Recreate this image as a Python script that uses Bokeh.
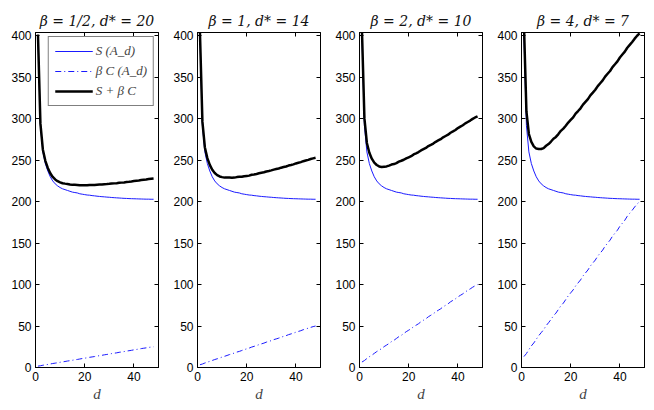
from bokeh.plotting import figure
from bokeh.models import LinearAxis, FixedTicker, Range1d, Legend, LegendItem
from bokeh.layouts import row
from bokeh.embed import file_html
from bokeh.resources import INLINE

# ---- data ----
d = list(range(1, 49))
S = [400, 292, 260, 246, 237, 230, 225, 221.5, 219, 217,
     215.5, 214.5, 213.5, 212.5, 211.5, 211, 210.5, 209.5, 209, 208.5,
     208, 207.8, 207.3, 207, 206.6, 206.3, 206, 205.8, 205.5, 205.3,
     205, 204.8, 204.6, 204.4, 204.2, 204, 203.9, 203.7, 203.6, 203.5,
     203.4, 203.3, 203.2, 203.1, 203.0, 203.0, 202.9, 202.9]
C = [3.3, 4.2, 5.4, 6.5, 7.4, 8.5, 9.6, 10.5, 11.4, 12.6,
     13.5, 14.5, 15.6, 16.4, 17.5, 18.6, 19.4, 20.5, 21.6, 22.5,
     23.4, 24.6, 25.5, 26.4, 27.6, 28.5, 29.4, 30.6, 31.5, 32.4,
     33.6, 34.5, 35.4, 36.6, 37.5, 38.4, 39.6, 40.5, 41.4, 42.6,
     43.5, 44.4, 45.6, 46.5, 47.4, 48.4, 49.3, 50.0]
betas = [0.5, 1, 2, 4]
titles = ["β = 1/2, d* = 20", "β = 1, d* = 14", "β = 2, d* = 10", "β = 4, d* = 7"]
legend_labels = ["S (A_d)", "β C (A_d)", "S + β C"]
x_ticks = [0, 20, 40]
y_ticks = [0, 50, 100, 150, 200, 250, 300, 350, 400]

SERIF = "Liberation Serif"
TITLE_FONT = "DejaVu Serif"
SANS = "Liberation Sans"


def style_axis(ax, ticks, show_labels):
    ax.ticker = FixedTicker(ticks=ticks)
    ax.major_tick_in = 4
    ax.major_tick_out = 0
    ax.minor_tick_line_color = None
    ax.axis_line_color = "black"
    ax.major_tick_line_color = "black"
    if show_labels:
        ax.major_label_text_font = SANS
        ax.major_label_text_font_size = "12px"
        ax.major_label_text_color = "black"
        ax.major_label_standoff = 4
    else:
        ax.major_label_overrides = {t: "" for t in ticks}
        ax.major_label_text_font_size = "1px"
        ax.major_label_text_color = None
        ax.major_label_standoff = 0


figs = []
n = len(betas)
for i, (b, t) in enumerate(zip(betas, titles)):
    left = 35 if i == 0 else 27
    right_b = 2 if i == n - 1 else 12
    p = figure(width=left + 123 + right_b, height=404,
               x_range=Range1d(0, 50), y_range=Range1d(0, 404),
               output_backend="svg", toolbar_location=None,
               min_border_left=left, min_border_right=right_b,
               min_border_top=32, min_border_bottom=35)
    p.xgrid.visible = False
    p.ygrid.visible = False
    p.outline_line_color = "black"
    p.background_fill_color = "white"
    p.border_fill_color = "white"

    style_axis(p.xaxis[0], x_ticks, True)
    style_axis(p.yaxis[0], y_ticks, True)
    p.xaxis[0].axis_label = "d"
    p.xaxis[0].axis_label_text_font = SERIF
    p.xaxis[0].axis_label_text_font_style = "italic"
    p.xaxis[0].axis_label_text_font_size = "15px"
    p.xaxis[0].axis_label_standoff = 2

    top = LinearAxis()
    style_axis(top, x_ticks, False)
    p.add_layout(top, "above")
    right = LinearAxis()
    style_axis(right, y_ticks, False)
    p.add_layout(right, "right")

    p.title.text = t
    p.title.align = "center"
    p.title.text_font = TITLE_FONT
    p.title.text_font_style = "italic"
    p.title.text_font_size = "14px"
    p.title.text_color = "#111111"
    p.title.standoff = 8

    bc = [b * c for c in C]
    tot = [s + b * c for s, c in zip(S, C)]
    r1 = p.line(d, S, line_color="#1a1aff", line_width=1)
    r2 = p.line(d, bc, line_color="#1a1aff", line_width=1, line_dash="6 3 1 3")
    r3 = p.line(d, tot, line_color="black", line_width=2.5)

    if i == 0:
        leg = Legend(items=[LegendItem(label=legend_labels[0], renderers=[r1]),
                            LegendItem(label=legend_labels[1], renderers=[r2]),
                            LegendItem(label=legend_labels[2], renderers=[r3])],
                     location="top_right")
        leg.border_line_color = "black"
        leg.border_line_width = 1
        leg.margin = 4
        leg.padding = 6
        leg.spacing = 4
        leg.glyph_width = 38
        leg.glyph_height = 16
        leg.label_height = 16
        leg.label_standoff = 3
        leg.label_text_font = SERIF
        leg.label_text_font_style = "italic"
        leg.label_text_font_size = "13px"
        leg.background_fill_alpha = 1
        p.add_layout(leg)
    figs.append(p)

layout = row(*figs)
open("out.html", "w").write(file_html(layout, INLINE))
